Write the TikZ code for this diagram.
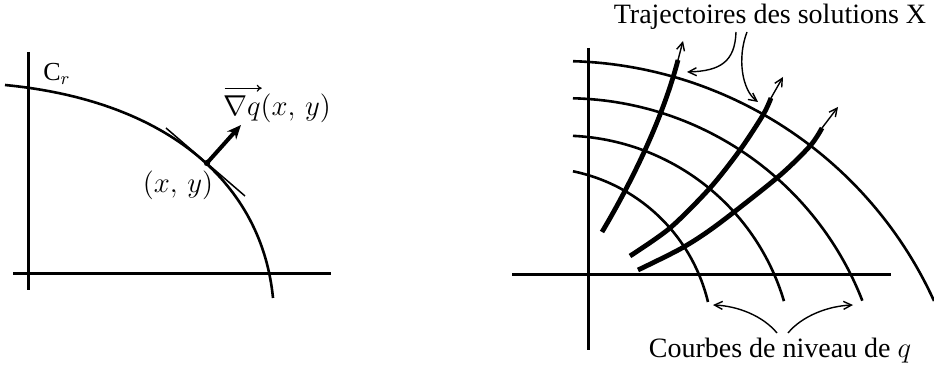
\documentclass[tikz,border=0pt]{standalone}
\usepackage{fontspec}
\setmainfont{Liberation Serif}
\usetikzlibrary{arrows.meta}
\begin{document}
\begin{tikzpicture}[x=0.5pt,y=-0.5pt,
  axis/.style={line width=1.5pt},
  level/.style={line width=1.3pt},
  traj/.style={line width=2.4pt,line cap=butt},
  trajtip/.style={line width=0.7pt,-{Straight Barb[length=4pt,width=4pt]}},
  annot/.style={line width=0.7pt,-{Straight Barb[length=4pt,width=4pt]}},
  lbl/.style={inner sep=0pt,font=\fontsize{13}{15}\selectfont},
  mlbl/.style={inner sep=0pt,font=\fontsize{14.5}{16}\selectfont},
  bigl/.style={inner sep=0pt,font=\fontsize{14}{16}\selectfont}]
\useasboundingbox (0,0) rectangle (934,369);
% ---------- left picture ----------
\draw[axis] (28,52) -- (28,290);
\draw[axis] (13,274) -- (331,274);
\draw[level] (5,85) .. controls (170,101) and (262,185) .. (273,298);
\coordinate (P) at (207,163);
\draw[line width=0.75pt] (166,128) -- (245,196);
\coordinate (G) at (241,125);
\draw[line width=2pt,-{Stealth[length=7pt,width=6pt]}] (P) -- (G);
\fill (P) circle (3.2);
\node[lbl] (Cr) at (57,74) {C$_r$};
\node[mlbl] (xy) at (178,185) {$(x,\,y)$};
\node[mlbl] (grad) at (277,108) {$\nabla q(x,\,y)$};
\draw[line width=0.6pt,-{To[length=2.5pt,width=3.5pt]}] ([xshift=1pt,yshift=2.5pt]grad.north west) -- ++(18.5pt,0);
% ---------- right picture ----------
\draw[axis] (588,48) -- (588,350);
\draw[axis] (512,275) -- (891,275);
\draw[level] plot[domain=88.32:24.5,samples=60] ({561+410*cos(\x)},{471-410*sin(\x)});
\draw[level] plot[domain=88.76:21.3,samples=60] ({566.1+318*cos(\x)},{416.2-318*sin(\x)});
\draw[level] plot[domain=87.35:16.5,samples=60] ({562.3+231.2*cos(\x)},{366.8-231.2*sin(\x)});
\draw[level] plot[domain=78.4:13.45,samples=60] ({537.8+175*cos(\x)},{342.7-175*sin(\x)});
% trajectories
\coordinate (t1) at (678,60);
\coordinate (T1) at (683,41);
\draw[traj] (602,232) .. controls (632.6,180.4) and (662.8,118) .. (t1);
\draw[trajtip] (t1) -- (T1);
\coordinate (t2) at (771,98);
\coordinate (T2) at (783,77);
\draw[traj] plot[smooth] coordinates {(630,256) (670,228) (710,188) (740,150) (763,115) (t2)};
\draw[trajtip] (t2) -- (T2);
\coordinate (t3) at (822,128);
\coordinate (T3) at (838,107);
\draw[traj] plot[smooth] coordinates {(638,270) (682,248) (717,225) (778,177) (810,146) (t3)};
\draw[trajtip] (t3) -- (T3);
% labels
\node[bigl] (traj) at (770,17) {Trajectoires des solutions X};
\node[bigl] (lev) at (780,351) {Courbes de niveau de $q$};
\coordinate (a1s) at (736,32);
\coordinate (a1e) at (687,72);
\coordinate (a2s) at (747,32);
\coordinate (a2e) at (758,102);
\draw[annot] (a1s) .. controls (735,62) and (720,71) .. (a1e);
\draw[annot] (a2s) .. controls (737,58) and (742,90) .. (a2e);
\coordinate (b1s) at (777,333);
\coordinate (b1e) at (713,305);
\coordinate (b2s) at (788,333);
\coordinate (b2e) at (853,305);
\draw[annot] (b1s) .. controls (763,316) and (738,306) .. (b1e);
\draw[annot] (b2s) .. controls (802,316) and (828,306) .. (b2e);
\end{tikzpicture}
\end{document}
